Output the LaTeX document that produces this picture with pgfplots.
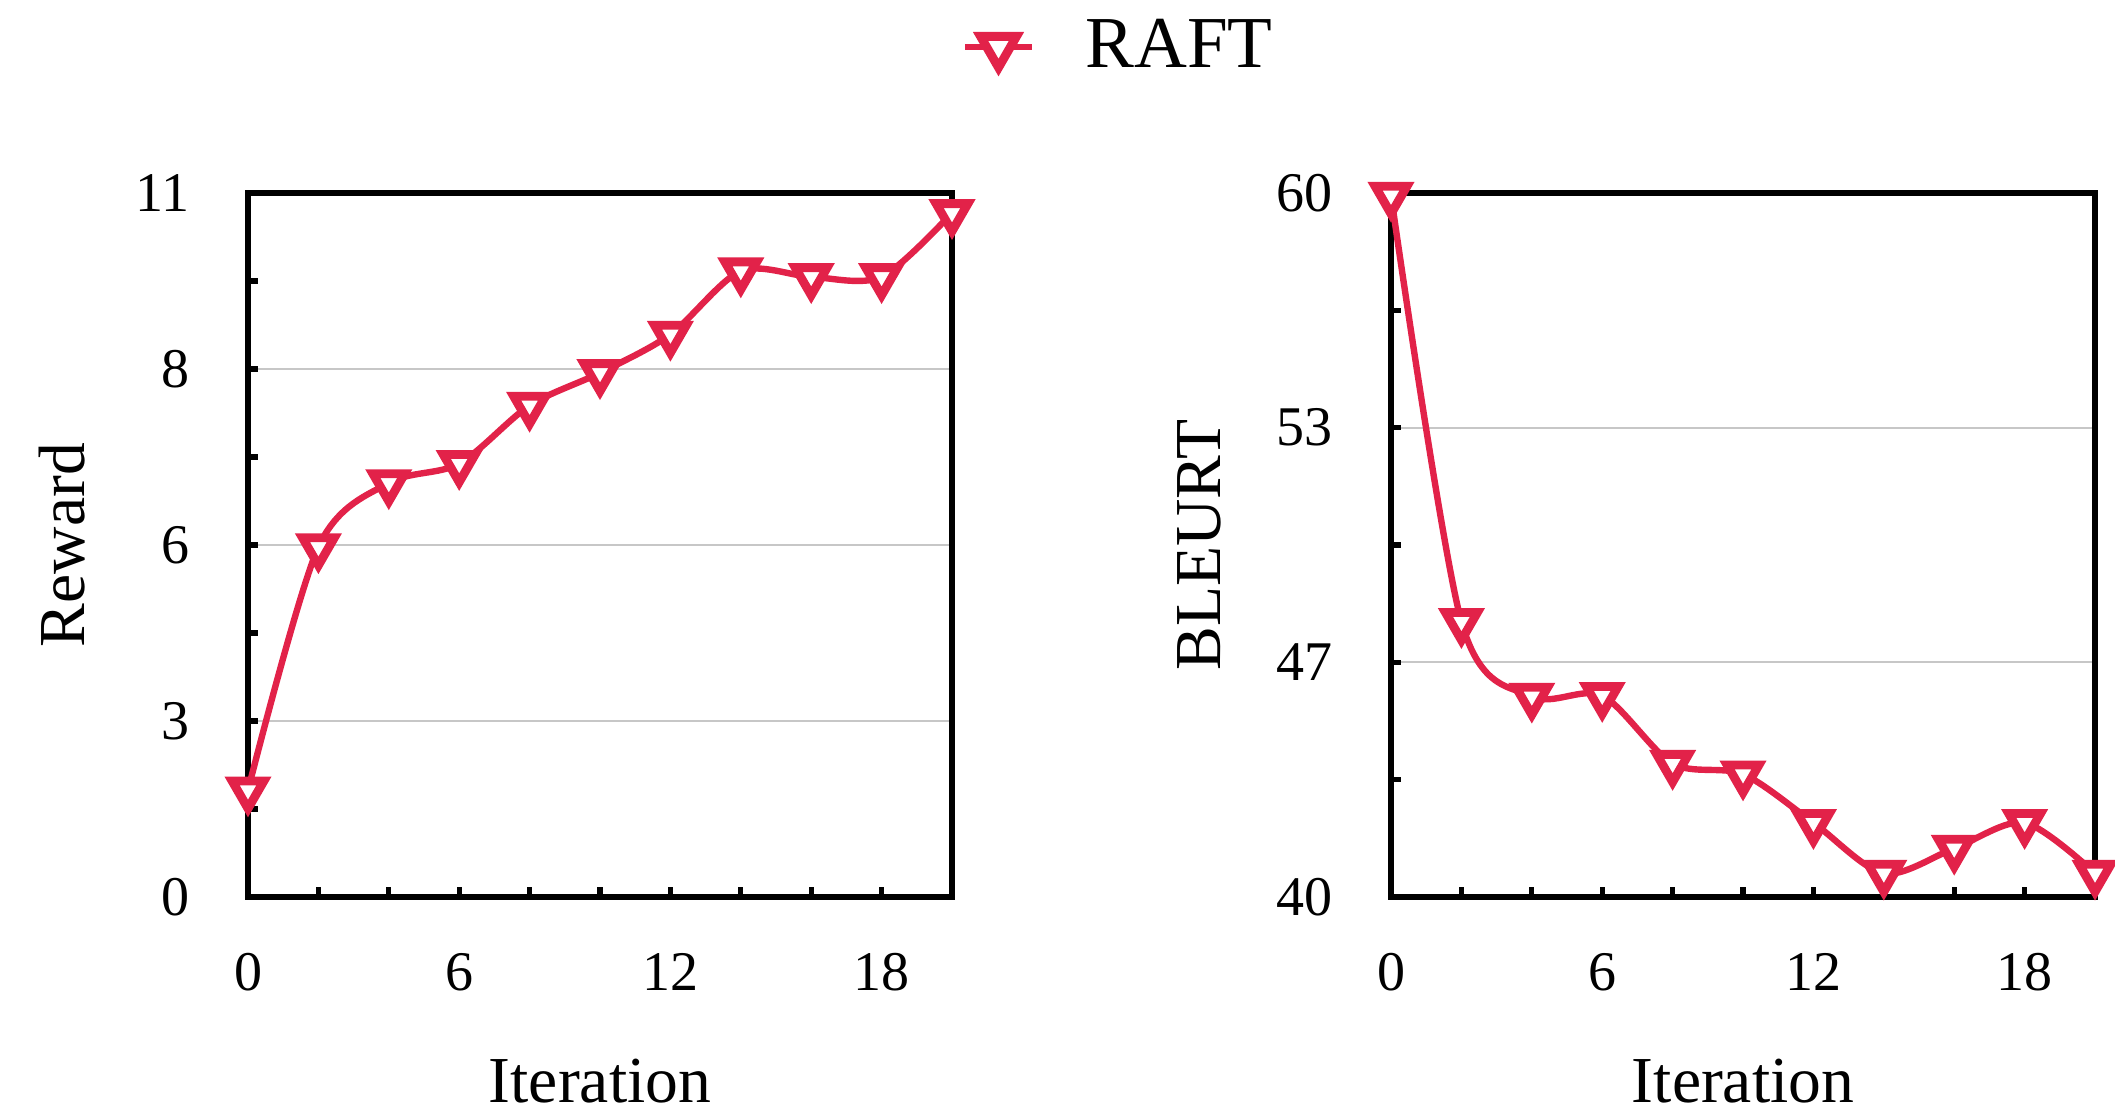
\documentclass[border=0pt]{standalone}
\usepackage{fontspec}
\setmainfont{Liberation Serif}
\usepackage{pgfplots}
\pgfplotsset{compat=1.18}
\definecolor{raft}{RGB}{226,34,73}

\begin{document}
\begin{tikzpicture}
\useasboundingbox (0,0) rectangle (528.75pt,278pt);
\pgfplotsset{
  myaxis/.style={
    width=176pt, height=176pt, scale only axis,
    anchor=south west,
    xmin=0, xmax=20,
    xtick={0,6,12,18},
    xticklabels={0,6,12,18},
    minor xtick={2,4,...,20},
    tick align=inside,
    xtick pos=bottom, ytick pos=left,
    major tick length=2.6pt, minor tick length=2.6pt,
    every tick/.style={black, line width=1.3pt},
    axis line style={line width=1.3pt},
    ymajorgrids,
    grid style={line width=0.45pt, color=black!22},
    tick label style={font=\fontsize{14}{14}\selectfont},
    /pgf/number format/assume math mode=true,
    xticklabel style={anchor=base, yshift=-23.25pt, inner sep=0pt},
    yticklabel style={anchor=east, xshift=-14.5pt, inner sep=0pt},
    label style={font=\fontsize{16.4}{16.4}\selectfont},
    xlabel style={at={(axis description cs:0.5,-0.2912)}, anchor=base, inner sep=0pt},
    clip=false,
  },
  raftplot/.style={
    color=raft, line width=1.6pt, smooth,
    mark=triangle*, mark size=4.6pt,
    mark options={rotate=180, fill=white, line width=2.2pt, solid},
  },
}
% Left panel: Reward
\begin{axis}[myaxis,
  at={(62pt,53.75pt)},
  ymin=0, ymax=11,
  ytick={0,2.75,5.5,8.25,11},
  yticklabels={0,3,6,8,11},
  minor ytick={1.375,4.125,6.875,9.625},
  xlabel={Iteration},
  ylabel={Reward},
  ylabel style={at={(axis description cs:-0.2648,0.5)}, anchor=center, inner sep=0pt},
  legend style={at={(axis description cs:1.0128,1.2077)}, anchor=west,
    draw=none, fill=none, inner sep=0pt,
    font=\fontsize{18.3}{18.3}\selectfont,
    nodes={inner sep=0pt},
    /tikz/every odd column/.append style={column sep=12.6pt}},
  legend image code/.code={\draw[mark repeat=2,mark phase=2,mark size=5.2pt] plot coordinates {(0pt,0pt) (8.375pt,0pt) (16.75pt,0pt)};},
]
\addplot[raftplot] coordinates {
  (0,1.67) (2,5.47) (4,6.47) (6,6.77) (8,7.68) (10,8.19)
  (12,8.79) (14,9.78) (16,9.69) (18,9.69) (20,10.69)
};
\addlegendentry{RAFT}
\end{axis}
% Right panel: BLEURT
\begin{axis}[myaxis,
  at={(347.75pt,53.75pt)},
  ymin=40, ymax=60,
  ytick={40,46.6667,53.3333,60},
  yticklabels={40,47,53,60},
  minor ytick={43.3333,50,56.6667},
  xlabel={Iteration},
  ylabel={BLEURT},
  ylabel style={at={(axis description cs:-0.2722,0.5)}, anchor=center, inner sep=0pt},
]
\addplot[raftplot] coordinates {
  (0,59.93) (2,47.82) (4,45.70) (6,45.72) (8,43.79) (10,43.49)
  (12,42.11) (14,40.67) (16,41.38) (18,42.11) (20,40.67)
};
\end{axis}
\end{tikzpicture}
\end{document}
